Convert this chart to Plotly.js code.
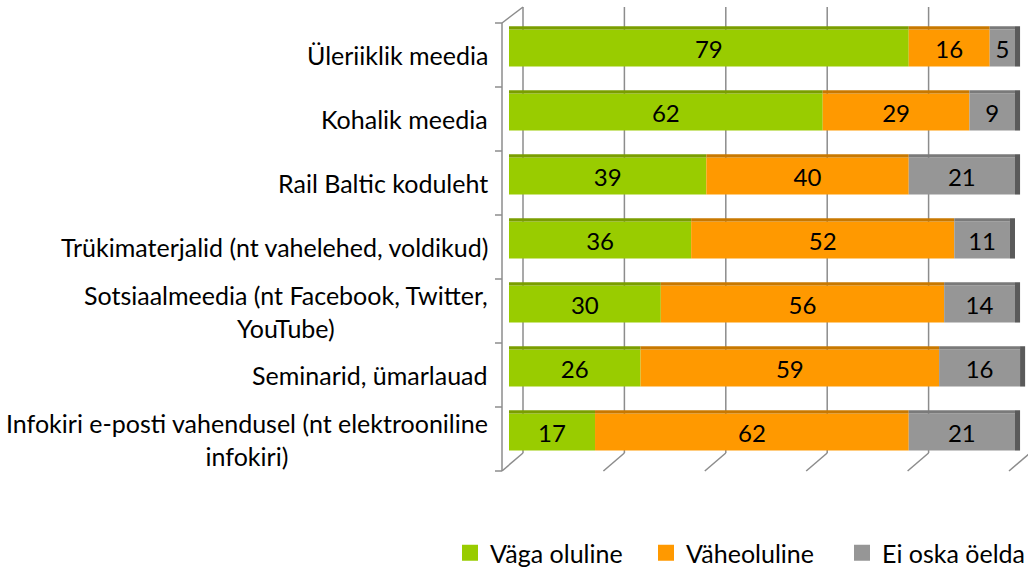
<!DOCTYPE html>
<html><head><meta charset="utf-8">
<script src="https://cdn.plot.ly/plotly-3.0.1.min.js"></script>
<style>html,body{margin:0;padding:0;background:#fff;}#chart{width:1028px;height:567px;}
svg text{font-variant-ligatures:none;}</style>
</head><body><div id="chart"></div>
<script>
// ---- data ----
var categories = [
  "Üleriiklik meedia",
  "Kohalik meedia",
  "Rail Baltic koduleht",
  "Trükimaterjalid (nt vahelehed, voldikud)",
  "Sotsiaalmeedia (nt Facebook, Twitter,<br>YouTube)",
  "Seminarid, ümarlauad",
  "Infokiri e-posti vahendusel (nt elektrooniline<br>infokiri)"
];
var seriesNames = ["Väga oluline", "Väheoluline", "Ei oska öelda"];
var vagaOluline  = [79, 62, 39, 36, 30, 26, 17];
var vaheoluline  = [16, 29, 40, 52, 56, 59, 62];
var eiOskaOelda  = [5, 9, 21, 11, 14, 16, 21];
var xTicks = [0, 20, 40, 60, 80, 100];

// ---- styles ----
var colors = ["#99CC00", "#FF9900", "#969696"];
var topColors = ["#7A9E00", "#C87800", "#7A7A7A"];
var sideColor = "#5A5A5A";
var FONT = "Lato, 'Open Sans', sans-serif";
var fsCat = 25, fsVal = 24, fsLeg = 25;

var W = 1028, H = 567;
var L = 509, R = 0, T = 16, B = 103;
var plotW = W - L - R, plotH = H - T - B;
var xMax = 102.57;
function px(x){ return (x - L) / plotW; }
function py(y){ return (H - B - y) / plotH; }

var seriesVals = [vagaOluline, vaheoluline, eiOskaOelda];
var ids = categories.map(function(c, i){ return i; });
var barW = 0.58, topW = 0.05;
var traces = [];
var bases = seriesVals.map(function(){ return []; });
for (var i = 0; i < categories.length; i++) {
  var acc = 0;
  for (var s = 0; s < seriesVals.length; s++) { bases[s].push(acc); acc += seriesVals[s][i]; }
}
seriesVals.forEach(function(vals, s){
  traces.push({
    type: "bar", orientation: "h", y: ids, x: vals, base: bases[s],
    width: barW, offset: -barW/2,
    marker: {color: colors[s], line: {width: 0}},
    text: vals.map(String), textposition: "inside", insidetextanchor: "middle",
    textangle: 0, constraintext: "none",
    textfont: {family: FONT, size: fsVal, color: "#000"},
    hoverinfo: "x", showlegend: false
  });
  traces.push({
    type: "bar", orientation: "h", y: ids, x: vals, base: bases[s],
    width: topW, offset: -barW/2 - topW,
    marker: {color: topColors[s], line: {width: 0}},
    hoverinfo: "skip", showlegend: false
  });
});
// right side face of the 3D bars
var totals = ids.map(function(i){ return vagaOluline[i] + vaheoluline[i] + eiOskaOelda[i]; });
traces.push({
  type: "bar", orientation: "h", y: ids, x: ids.map(function(){ return 1; }), base: totals,
  width: barW + topW, offset: -barW/2 - topW,
  marker: {color: sideColor, line: {width: 0}}, hoverinfo: "skip", showlegend: false
});
// legend entries
seriesNames.forEach(function(n, s){
  traces.push({
    type: "scatter", mode: "markers", x: [null], y: [null], name: n,
    marker: {symbol: "square", size: 20, color: colors[s]}, hoverinfo: "skip"
  });
});

var grid = "#8C8C8C";
var shapes = [];
function seg(x0,y0,x1,y1){
  shapes.push({type:"line", xref:"paper", yref:"paper", x0:px(x0), y0:py(y0), x1:px(x1), y1:py(y1),
    line:{color:grid, width:1.5}, layer:"below"});
}
var pxPerUnit = 5.07;
xTicks.forEach(function(v){
  var xb = 523 + pxPerUnit * v, xf = 502 + pxPerUnit * v;
  seg(xb, 7, xb, 453);
  seg(xf, 471, xb, 453);
});
seg(502, 23, 502, 471);
seg(502, 23, 523, 7);
for (var k = 0; k <= categories.length; k++) seg(495, 23 + 64 * k, 502, 23 + 64 * k);

var annotations = categories.map(function(c, i){
  return {xref:"paper", yref:"y", x: px(490), y: i, xanchor:"right", yanchor:"middle",
    align:"center", text: c, showarrow:false, yshift:-7,
    font:{family:FONT, size:fsCat, color:"#000"}};
});

var layout = {
  width: W, height: H,
  margin: {l: L, r: R, t: T, b: B, pad: 0, autoexpand: false},
  paper_bgcolor: "#fff", plot_bgcolor: "rgba(0,0,0,0)",
  barmode: "overlay",
  xaxis: {range: [0, xMax], visible: false, fixedrange: true},
  yaxis: {range: [categories.length - 0.5, -0.5], visible: false, fixedrange: true},
  showlegend: true,
  legend: {orientation: "h", x: px(450), xanchor: "left", y: py(553), yanchor: "middle",
    font: {family: FONT, size: fsLeg, color: "#000"}, itemwidth: 30, entrywidth: 151,
    bgcolor: "rgba(0,0,0,0)"},
  shapes: shapes,
  annotations: annotations,
  font: {family: FONT}
};
Plotly.newPlot("chart", traces, layout, {displayModeBar: false, staticPlot: true});
</script></body></html>
